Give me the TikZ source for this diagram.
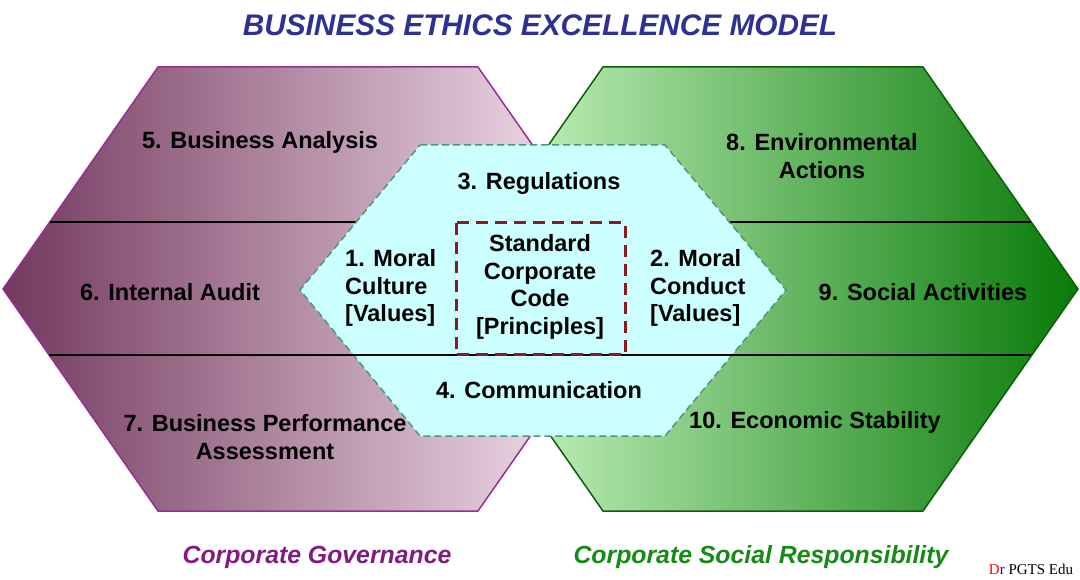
\documentclass[tikz,border=0pt]{standalone}
\usepackage{fontspec}
\setmainfont{Liberation Sans}
\newfontfamily\drserif{Liberation Serif}
\definecolor{titleblue}{HTML}{2E3192}
\definecolor{cgpurple}{HTML}{831A83}
\definecolor{csrgreen}{HTML}{168A16}
\definecolor{hexpurple}{HTML}{982D98}
\definecolor{hexgreen}{HTML}{0B5E0B}
\definecolor{cyanfill}{HTML}{CCFFFF}
\definecolor{cyanedge}{HTML}{4A9978}
\definecolor{codered}{HTML}{8B1A1A}
\definecolor{pA}{HTML}{73395E}
\definecolor{pB}{HTML}{DAA4C8}
\definecolor{pC}{HTML}{FDEDF7}
\definecolor{gA}{HTML}{D8FFD0}
\definecolor{gB}{HTML}{70E06C}
\definecolor{gC}{HTML}{087A08}
\tikzset{
  lbl/.style={font=\fontsize{23.5}{27.5}\selectfont\bfseries, text=black, inner sep=0pt, align=center},
  lbll/.style={font=\fontsize{23.5}{27.5}\selectfont\bfseries, text=black, inner sep=0pt, align=left},
  foot/.style={font=\fontsize{24.8}{28}\selectfont\bfseries\itshape, inner sep=0pt},
  divider/.style={draw=black, line width=1.4pt},
}
\begin{document}
\begin{tikzpicture}[x=1pt,y=-1pt]
\useasboundingbox (0,0) rectangle (1080,580);
% vertices
\coordinate (L1) at (158,67); \coordinate (L2) at (478,67); \coordinate (L3) at (633,289);
\coordinate (L4) at (478,511); \coordinate (L5) at (158,511); \coordinate (L6) at (3,289);
\coordinate (G1) at (603,67); \coordinate (G2) at (923,67); \coordinate (G3) at (1078,289);
\coordinate (G4) at (923,511); \coordinate (G5) at (603,511); \coordinate (G6) at (448,289);
\coordinate (C1) at (420,145); \coordinate (C2) at (665,145); \coordinate (C3) at (786,290);
\coordinate (C4) at (665,436); \coordinate (C5) at (420,436); \coordinate (C6) at (300,290);
% left hexagon
\path[draw=hexpurple, line width=1.5pt, left color=pA, middle color=pB, right color=pC]
  (L1) -- (L2) -- (L3) -- (L4) -- (L5) -- (L6) -- cycle;
% right hexagon
\path[draw=hexgreen, line width=1.5pt, left color=gA, middle color=gB, right color=gC]
  (G1) -- (G2) -- (G3) -- (G4) -- (G5) -- (G6) -- cycle;
% upper divider
\coordinate (d1a) at (50,222); \coordinate (d1b) at (1031,222);
\draw[divider] (d1a) -- (d1b);
% central hexagon
\path[fill=cyanfill, draw=cyanedge, line width=1.5pt, dash pattern=on 7pt off 4pt]
  (C1) -- (C2) -- (C3) -- (C4) -- (C5) -- (C6) -- cycle;
% lower divider
\coordinate (d2a) at (49,355); \coordinate (d2b) at (1031,355);
\draw[divider] (d2a) -- (d2b);
% code rectangle
\draw[draw=codered, line width=3pt, dash pattern=on 12pt off 7pt] (456,223) rectangle (625,355);
% title
\node[font=\fontsize{29.8}{32}\selectfont\bfseries\itshape, text=titleblue, inner sep=0pt] (title) at (540,25) {BUSINESS ETHICS EXCELLENCE MODEL};
% labels
\node[lbl] (n5) at (260,142) {5. Business Analysis};
\node[lbl] (n3) at (539,183) {3. Regulations};
\node[lbl] (n8) at (822,156) {8. Environmental\\Actions};
\node[lbl] (n6) at (170,292) {6. Internal Audit};
\node[lbll, anchor=west] (n1) at (345,288) {1. Moral\\Culture\\{[Values]}};
\node[lbl] (std) at (540,287) {Standard\\Corporate\\Code\\{[Principles]}};
\node[lbll, anchor=west] (n2) at (650,288) {2. Moral\\Conduct\\{[Values]}};
\node[lbl] (n9) at (923,292) {9. Social Activities};
\node[lbl] (n4) at (539,390) {4. Communication};
\node[lbl] (n7) at (265,437) {7. Business Performance\\Assessment};
\node[lbl] (n10) at (815,422) {10. Economic Stability};
% footers
\node[foot, text=cgpurple] (cg) at (317,557) {Corporate Governance};
\node[foot, text=csrgreen] (csr) at (761,557) {Corporate Social Responsibility};
\node[font=\fontsize{15}{17}\selectfont\drserif, inner sep=0pt] (dr) at (1031,569) {\textcolor{red}{D}\textcolor{blue}{r} PGTS Edu};
\end{tikzpicture}
\end{document}
